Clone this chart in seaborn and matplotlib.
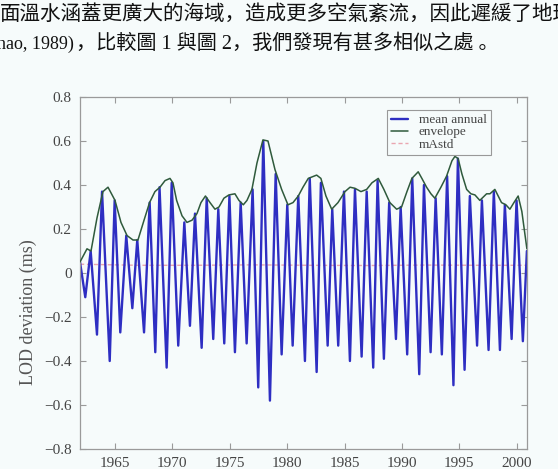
import matplotlib
matplotlib.use("Agg")
import matplotlib.pyplot as plt
import seaborn as sns
import pandas as pd

# ---------------- data ----------------
mean_years = [1961.95, 1962.41, 1962.88, 1963.43, 1963.87, 1964.54, 1964.97, 1965.46,
              1965.98, 1966.51, 1966.94, 1967.53, 1968.02, 1968.51, 1968.88, 1969.50,
              1969.94, 1970.51, 1971.04, 1971.53, 1971.97, 1972.55, 1972.99, 1973.56,
              1974.00, 1974.52, 1974.97, 1975.45, 1975.95, 1976.47, 1976.99, 1977.48,
              1977.92, 1978.50, 1979.00, 1979.52, 1980.01, 1980.48, 1980.97, 1981.55,
              1981.97, 1982.57, 1982.94, 1983.53, 1983.93, 1984.45, 1984.95, 1985.47,
              1985.91, 1986.49, 1986.93, 1987.50, 1987.88, 1988.43, 1988.89, 1989.48,
              1989.89, 1990.46, 1990.90, 1991.51, 1991.92, 1992.50, 1992.94, 1993.48,
              1993.94, 1994.49, 1994.88, 1995.46, 1995.92, 1996.55, 1996.97, 1997.55,
              1998.01, 1998.54, 1998.97, 1999.56, 1999.99, 2000.54, 2000.89]
mean_vals = [0.05, -0.11, 0.10, -0.28, 0.37, -0.40, 0.33, -0.27,
             0.17, -0.16, 0.15, -0.27, 0.32, -0.36, 0.39, -0.43,
             0.41, -0.33, 0.23, -0.24, 0.27, -0.34, 0.34, -0.30,
             0.29, -0.32, 0.35, -0.36, 0.32, -0.32, 0.38, -0.52,
             0.60, -0.58, 0.45, -0.37, 0.31, -0.33, 0.35, -0.40,
             0.43, -0.45, 0.41, -0.33, 0.29, -0.33, 0.37, -0.40,
             0.38, -0.38, 0.37, -0.43, 0.42, -0.39, 0.32, -0.30,
             0.30, -0.37, 0.43, -0.46, 0.40, -0.36, 0.34, -0.37,
             0.44, -0.51, 0.52, -0.44, 0.35, -0.33, 0.33, -0.35,
             0.37, -0.35, 0.31, -0.30, 0.33, -0.31, 0.10]

env_years = [1961.95, 1962.56, 1962.91, 1963.43, 1963.95, 1964.39, 1965.00, 1965.52,
             1966.05, 1966.57, 1967.00, 1967.53, 1968.01, 1968.48, 1968.92, 1969.36,
             1969.79, 1970.05, 1970.37, 1970.84, 1971.27, 1971.71, 1972.14, 1972.49,
             1972.88, 1973.28, 1973.71, 1974.06, 1974.49, 1974.93, 1975.45, 1975.80,
             1976.18, 1976.50, 1976.93, 1977.37, 1977.89, 1978.33, 1978.94, 1979.52,
             1980.07, 1980.51, 1980.97, 1981.38, 1981.84, 1982.57, 1982.94, 1983.38,
             1983.88, 1984.43, 1985.04, 1985.48, 1985.91, 1986.43, 1986.93, 1987.39,
             1987.94, 1988.43, 1988.95, 1989.54, 1989.97, 1990.44, 1990.87, 1991.42,
             1991.74, 1992.15, 1992.53, 1992.87, 1993.40, 1993.89, 1994.36, 1994.62,
             1994.90, 1995.23, 1995.64, 1996.01, 1996.36, 1996.79, 1997.38, 1997.67,
             1998.10, 1998.68, 1999.06, 1999.41, 1999.76, 2000.13, 2000.45, 2000.89]
env_vals = [0.05, 0.11, 0.10, 0.25, 0.37, 0.39, 0.33, 0.23,
            0.17, 0.15, 0.15, 0.24, 0.32, 0.37, 0.39, 0.42,
            0.43, 0.41, 0.33, 0.26, 0.23, 0.24, 0.27, 0.32,
            0.35, 0.32, 0.29, 0.30, 0.34, 0.355, 0.36, 0.33,
            0.31, 0.33, 0.38, 0.50, 0.605, 0.60, 0.47, 0.38,
            0.31, 0.32, 0.35, 0.39, 0.43, 0.445, 0.43, 0.35,
            0.29, 0.32, 0.37, 0.39, 0.385, 0.37, 0.38, 0.41,
            0.43, 0.38, 0.32, 0.29, 0.30, 0.37, 0.43, 0.46,
            0.43, 0.39, 0.36, 0.34, 0.39, 0.44, 0.51, 0.53,
            0.52, 0.45, 0.38, 0.36, 0.355, 0.33, 0.36, 0.36,
            0.38, 0.32, 0.31, 0.29, 0.32, 0.35, 0.28, 0.11]

mastd_years = [1961.95, 1967.0, 1972.0, 1977.0, 1982.0, 1987.0, 1992.0, 1997.0, 2000.89]
mastd_vals = [0.040, 0.035, 0.035, 0.037, 0.035, 0.034, 0.036, 0.035, 0.035]

x_ticks = [1965, 1970, 1975, 1980, 1985, 1990, 1995, 2000]
y_ticks = [-0.8, -0.6, -0.4, -0.2, 0.0, 0.2, 0.4, 0.6, 0.8]
y_tick_labels = ["\u22120.8", "\u22120.6", "\u22120.4", "\u22120.2", "0", "0.2", "0.4", "0.6", "0.8"]

legend_labels = ["mean annual", "envelope", "mAstd"]
y_label = "LOD deviation (ms)"

line1 = "面溫水涵蓋更廣大的海域，造成更多空氣紊流，因此遲緩了地球自轉"
line2_latin = "hao, 1989)"
line2_cjk = "，比較圖 1 與圖 2，我們發現有甚多相似之處 。"

# ---------------- styling ----------------
sns.set_theme(style="ticks")
plt.rcParams["font.family"] = ["Liberation Serif", "Noto Sans CJK SC", "DejaVu Sans"]
plt.rcParams["axes.unicode_minus"] = True

bg = "#f6fbfb"
fig = plt.figure(figsize=(5.58, 4.69), dpi=100, facecolor=bg)
ax = fig.add_axes([80 / 558, 1 - 449 / 469, 447 / 558, 352 / 469], facecolor=bg)

df_mean = pd.DataFrame({"year": mean_years, "val": mean_vals})
df_env = pd.DataFrame({"year": env_years, "val": env_vals})
df_std = pd.DataFrame({"year": mastd_years, "val": mastd_vals})

sns.lineplot(data=df_std, x="year", y="val", ax=ax, color="#eaa6b0", lw=1.0,
             linestyle=(0, (3, 2)), label=legend_labels[2], zorder=1)
sns.lineplot(data=df_mean, x="year", y="val", ax=ax, color="#2e2ec2", lw=1.7,
             label=legend_labels[0], zorder=2)
sns.lineplot(data=df_env, x="year", y="val", ax=ax, color="#2f5a3c", lw=1.1,
             label=legend_labels[1], zorder=3)

ax.set_xlim(1961.95, 2000.9)
ax.set_ylim(-0.8, 0.8)
ax.set_xticks(x_ticks)
ax.set_xticklabels([str(t) for t in x_ticks])
ax.set_yticks(y_ticks)
ax.set_yticklabels(y_tick_labels)
ax.set_xlabel("")
ax.set_ylabel(y_label, fontsize=13, color="#555555")
ax.yaxis.set_label_coords((37 - 80) / 447, (449 - 312) / 352)

for s in ax.spines.values():
    s.set_color("#9a9a9a")
    s.set_linewidth(0.9)
ax.tick_params(direction="in", length=4, width=0.8, color="#9a9a9a",
               top=True, right=True, labelsize=11, labelcolor="#444444")
ax.tick_params(axis="x", pad=6)
ax.tick_params(axis="y", pad=6)

handles, labels = ax.get_legend_handles_labels()
order = [labels.index(l) for l in legend_labels]
leg = ax.legend([handles[i] for i in order], [labels[i] for i in order],
                loc="upper left", bbox_to_anchor=((387 - 80) / 447, (449 - 110) / 352),
                fontsize=9.5, frameon=True, fancybox=False, edgecolor="#999999",
                facecolor=bg, framealpha=1, handlelength=1.3, handletextpad=0.8,
                labelspacing=0.0, borderpad=0.3, borderaxespad=0)
leg.get_frame().set_linewidth(0.8)
for t in leg.get_texts():
    t.set_color("#444444")

fig.text(0.0, 1 - 15 / 469, line1, fontsize=14.8, va="center", ha="left", color="#111111")
fig.text(-3 / 558, 1 - 44 / 469, line2_latin, fontsize=13, va="center", ha="left", color="#111111")
fig.text(76 / 558, 1 - 44 / 469, line2_cjk, fontsize=14.5, va="center", ha="left", color="#111111")

fig.savefig("out.png", dpi=100, facecolor=bg)
